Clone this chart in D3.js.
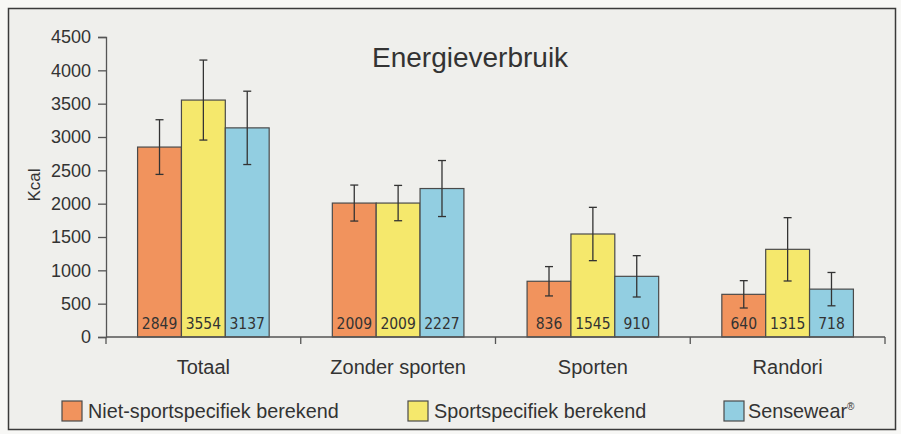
<!DOCTYPE html>
<html>
<head>
<meta charset="utf-8">
<script src="https://cdn.jsdelivr.net/npm/d3@7"></script>
<style>
  body { margin: 0; background: #f7f7f5; }
  text { font-family: "Liberation Sans", Arial, sans-serif; fill: #333; }
  .narrow { font-family: "DejaVu Sans Condensed", "Liberation Sans Narrow", sans-serif; }
</style>
</head>
<body>
<svg id="chart" width="901" height="434"></svg>
<script>
// chart data
const categories = ['Totaal', 'Zonder sporten', 'Sporten', 'Randori'];
const seriesNames = ['Niet-sportspecifiek berekend', 'Sportspecifiek berekend', 'Sensewear'];
const nietSport = [2849, 2009, 836, 640];
const sportSpec = [3554, 2009, 1545, 1315];
const sensewear = [3137, 2227, 910, 718];
// error bar half widths
const nietSportErr = [410, 270, 220, 205];
const sportSpecErr = [600, 265, 400, 475];
const sensewearErr = [550, 420, 310, 250];
const yTicks = [0, 500, 1000, 1500, 2000, 2500, 3000, 3500, 4000, 4500];

const colors = ['#f1935d', '#f5e86c', '#92cee1'];
const values = [nietSport, sportSpec, sensewear];
const errors = [nietSportErr, sportSpecErr, sensewearErr];

const svg = d3.select('#chart');
const margin = { top: 37, right: 16, bottom: 97, left: 106 };
const width = 901, height = 434;
const chartWidth = width - margin.left - margin.right;
const chartHeight = height - margin.top - margin.bottom;

// frame
svg.append('rect')
    .attr('x', 8.5).attr('y', 8.5)
    .attr('width', 887).attr('height', 421)
    .attr('fill', '#efefec')
    .attr('stroke', '#3a3a3a')
    .attr('stroke-width', 1.5);

const g = svg.append('g')
    .attr('transform', `translate(${margin.left}, ${margin.top})`);

const y = d3.scaleLinear().domain([0, 4500]).range([chartHeight, 0]);
const x0 = d3.scaleBand().domain(categories).range([0, chartWidth]);
const x1 = d3.scaleBand().domain(seriesNames).range([0, x0.bandwidth()]).paddingOuter(0.72);

// rows of data for drawing
const rows = [];
categories.forEach((c, i) => {
    seriesNames.forEach((s, j) => {
        rows.push({ cat: c, series: s, value: values[j][i], err: errors[j][i], color: colors[j] });
    });
});

// bars
g.selectAll('.bar')
    .data(rows)
    .enter()
    .append('rect')
    .attr('class', 'bar')
    .attr('x', d => x0(d.cat) + x1(d.series))
    .attr('y', d => y(d.value))
    .attr('width', x1.bandwidth())
    .attr('height', d => chartHeight - y(d.value))
    .attr('fill', d => d.color)
    .attr('stroke', '#4a4a4a')
    .attr('stroke-width', 1.2);

// error bars
const err = g.selectAll('.err')
    .data(rows)
    .enter()
    .append('g')
    .attr('class', 'err')
    .attr('transform', d => `translate(${x0(d.cat) + x1(d.series) + x1.bandwidth() / 2}, 0)`)
    .attr('stroke', '#333')
    .attr('stroke-width', 1.3);
err.append('line')
    .attr('y1', d => y(d.value + d.err))
    .attr('y2', d => y(d.value - d.err));
err.append('line')
    .attr('x1', -4).attr('x2', 4)
    .attr('y1', d => y(d.value + d.err))
    .attr('y2', d => y(d.value + d.err));
err.append('line')
    .attr('x1', -4).attr('x2', 4)
    .attr('y1', d => y(d.value - d.err))
    .attr('y2', d => y(d.value - d.err));

// value labels inside bars
g.selectAll('.val')
    .data(rows)
    .enter()
    .append('text')
    .attr('class', 'narrow')
    .attr('x', d => x0(d.cat) + x1(d.series) + x1.bandwidth() / 2)
    .attr('y', chartHeight - 8)
    .style('text-anchor', 'middle')
    .style('font-size', '15.5px')
    .text(d => d.value);

// y axis
const yAxis = g.append('g')
    .call(d3.axisLeft(y).tickValues(yTicks).tickFormat(d3.format('d')).tickSize(8).tickPadding(7));
yAxis.select('.domain').attr('stroke', '#555').attr('stroke-width', 1.3);
yAxis.selectAll('.tick line').attr('stroke', '#555').attr('stroke-width', 1.3);
yAxis.selectAll('.tick text')
    .style('font-size', '18px')
    .style('font-family', '"Liberation Sans", Arial, sans-serif')
    .attr('fill', '#333');

// x axis: baseline with separators between categories
const xAxis = g.append('g').attr('transform', `translate(0, ${chartHeight})`);
xAxis.append('line')
    .attr('x1', 0).attr('x2', chartWidth)
    .attr('stroke', '#555').attr('stroke-width', 1.3);
xAxis.selectAll('.sep')
    .data(categories.map(c => x0(c)).concat([chartWidth]))
    .enter()
    .append('line')
    .attr('x1', d => d).attr('x2', d => d)
    .attr('y1', 0).attr('y2', 7)
    .attr('stroke', '#555').attr('stroke-width', 1.3);
xAxis.selectAll('.cat')
    .data(categories)
    .enter()
    .append('text')
    .attr('x', d => x0(d) + x0.bandwidth() / 2)
    .attr('y', 37)
    .style('text-anchor', 'middle')
    .style('font-size', '20px')
    .text(d => d);

// y axis title
g.append('text')
    .attr('transform', `translate(-66, 148) rotate(-90)`)
    .style('text-anchor', 'middle')
    .style('font-size', '17px')
    .text('Kcal');

// title
svg.append('text')
    .attr('x', 372)
    .attr('y', 67)
    .style('font-size', '28px')
    .text('Energieverbruik');

// legend
const legendX = [62, 408, 724];
const legend = svg.selectAll('.legend')
    .data(seriesNames)
    .enter()
    .append('g')
    .attr('transform', (d, i) => `translate(${legendX[i]}, 401)`);
legend.append('rect')
    .attr('width', 20).attr('height', 20)
    .attr('fill', (d, i) => colors[i])
    .attr('stroke', '#4a4a4a')
    .attr('stroke-width', 1.2);
legend.append('text')
    .attr('x', (d, i) => i === 2 ? 24 : 26)
    .attr('y', 17)
    .style('font-size', '19.8px')
    .text(d => d)
    .append('tspan')
    .attr('dy', -8)
    .style('font-size', '10px')
    .text((d, i) => i === 2 ? '®' : '');
</script>
</body>
</html>
